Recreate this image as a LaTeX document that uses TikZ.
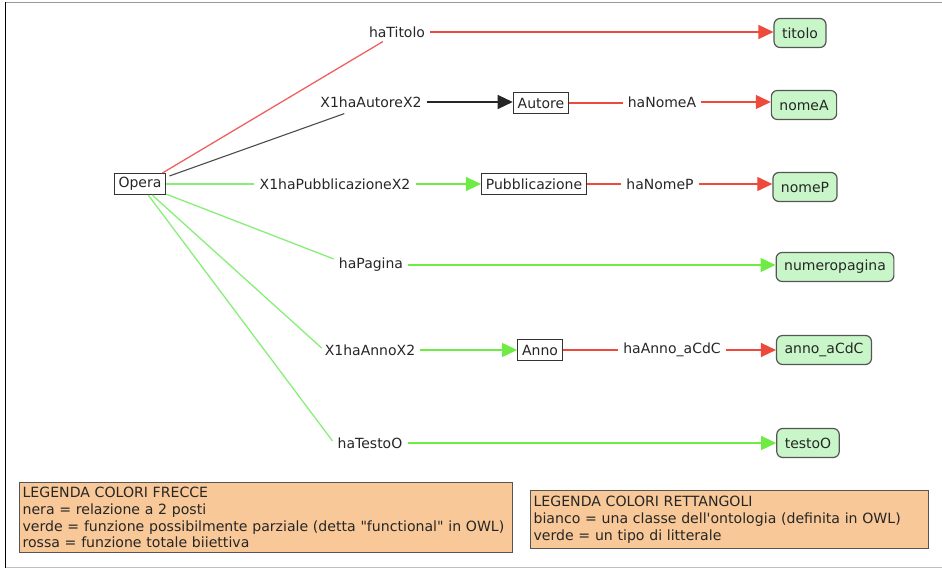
\documentclass[tikz,border=0pt]{standalone}
\usepackage{fontspec}
\setmainfont{DejaVu Sans}[Ligatures=TeXOff]
\usetikzlibrary{arrows.meta,calc}
\definecolor{redl}{HTML}{EE4A3C}
\definecolor{redo}{HTML}{F06060}
\definecolor{greenl}{HTML}{6EEB44}
\definecolor{greenlo}{HTML}{88EE77}
\definecolor{greenfill}{HTML}{C8F6C8}
\definecolor{legfill}{HTML}{F8C898}
\definecolor{boxdraw}{HTML}{555555}
\tikzset{
  every node/.style={font=\fontsize{14}{16}\selectfont, text=black!85},
  classbox/.style={draw=black!80, line width=1pt, fill=white, inner xsep=4.5pt, inner ysep=0pt, minimum height=21pt},
  litbox/.style={draw=boxdraw, line width=1.2pt, fill=greenfill, rounded corners=6pt, inner xsep=8pt, inner ysep=0pt, minimum height=29pt},
  lbl/.style={inner xsep=5pt, inner ysep=6pt},
  tip/.style={-{Triangle[length=15pt,width=14pt]}},
  rline/.style={draw=redl, line width=1.3pt},
  roline/.style={draw=redo, line width=1.3pt},
  gline/.style={draw=greenl, line width=1.3pt},
  goline/.style={draw=greenlo, line width=1.3pt},
  bline/.style={draw=black!85, line width=1.3pt},
  boline/.style={draw=black!70, line width=1.1pt},
  legend/.style={draw=boxdraw, line width=1.2pt, fill=legfill, anchor=north west, align=left, inner xsep=3pt, inner ysep=0pt, font=\fontsize{14.1}{16.8}\selectfont}
}
\begin{document}
\begin{tikzpicture}[x=1pt,y=-1pt]
\useasboundingbox (0,0) rectangle (942,569);
% frame
\draw[gray!80, line width=1.5pt] (5,2.5) -- (942,2.5);
\draw[gray!50, line width=1pt] (5,567.5) -- (942,567.5);
\draw[black, line width=1.5pt] (5.5,2) -- (5.5,568);

% class nodes
\node[classbox] (opera) at (140,184) {Opera};
\node[classbox] (autore) at (541,103) {Autore};
\node[classbox] (pubbl) at (534,184) {Pubblicazione};
\node[classbox] (anno) at (540,350) {Anno};

% literal nodes
\node[litbox] (titolo) at (800,33) {titolo};
\node[litbox] (nomeA) at (804,105) {nomeA};
\node[litbox] (nomeP) at (805,187) {nomeP};
\node[litbox] (numpag) at (835,267) {numeropagina};
\node[litbox] (annoac) at (824,350) {anno\_aCdC};
\node[litbox] (testo) at (808,443) {testoO};

% property labels
\node[lbl] (lTitolo) at (397,32) {haTitolo};
\node[lbl] (lAutore) at (371,102) {X1haAutoreX2};
\node[lbl] (lPubbl) at (335,184) {X1haPubblicazioneX2};
\node[lbl] (lPagina) at (371,265) {haPagina};
\node[lbl] (lAnno) at (370,350) {X1haAnnoX2};
\node[lbl] (lTesto) at (370,443) {haTestoO};
\node[lbl] (lNomeA) at (662,102) {haNomeA};
\node[lbl] (lNomeP) at (660,184) {haNomeP};
\node[lbl] (lAnnoac) at (672,350) {haAnno\_aCdC};

% connector end points
\coordinate (eT) at ($(lTitolo.south west)+(19,-2)$);
\coordinate (eA) at ($(lAutore.south west)+(29,0)$);
\coordinate (ePag) at ($(lPagina.west)+(0,-6)$);
\coordinate (eAn) at ($(lAnno.west)+(2,-2)$);
\coordinate (eTe) at ($(lTesto.west)+(0,-2)$);
\coordinate (oT) at ($(opera.north east)+(-4,0)$);
\coordinate (oA) at ($(opera.north east)+(3,3)$);

% connectors from Opera
\draw[roline] (oT) -- (eT);
\draw[rline,tip,fill=redl] (lTitolo.east) -- (lTitolo.east -| titolo.west);

\draw[boline] (oA) -- (eA);
\draw[bline,tip,fill=black] (lAutore.east) -- (lAutore.east -| autore.west);
\draw[rline] (autore.east) -- (autore.east -| lNomeA.west);
\draw[rline,tip,fill=redl] (lNomeA.east) -- (lNomeA.east -| nomeA.west);

\draw[goline] (opera) -- (lPubbl);
\draw[gline,tip,fill=greenl] (lPubbl.east) -- (lPubbl.east -| pubbl.west);
\draw[rline] (pubbl.east) -- (pubbl.east -| lNomeP.west);
\draw[rline,tip,fill=redl] (lNomeP.east) -- (lNomeP.east -| nomeP.west);

\draw[goline] (opera) -- (ePag);
\draw[gline,tip,fill=greenl] (lPagina.east) -- (lPagina.east -| numpag.west);

\draw[goline] (opera) -- (eAn);
\draw[gline,tip,fill=greenl] (lAnno.east) -- (lAnno.east -| anno.west);
\draw[rline] (anno.east) -- (anno.east -| lAnnoac.west);
\draw[rline,tip,fill=redl] (lAnnoac.east) -- (lAnnoac.east -| annoac.west);

\draw[goline] (opera) -- (eTe);
\draw[gline,tip,fill=greenl] (lTesto.east) -- (lTesto.east -| testo.west);

% legends
\node[legend, minimum width=493pt, minimum height=70pt, text width=487pt] (leg1) at (19,482) {LEGENDA COLORI FRECCE\\nera = relazione a 2 posti\\verde = funzione possibilmente parziale (detta "functional" in OWL)\\rossa = funzione totale biiettiva};
\node[legend, minimum width=398pt, minimum height=58pt, text width=392pt] (leg2) at (530,490) {LEGENDA COLORI RETTANGOLI\\bianco = una classe dell'ontologia (definita in OWL)\\verde = un tipo di litterale};
\end{tikzpicture}
\end{document}
